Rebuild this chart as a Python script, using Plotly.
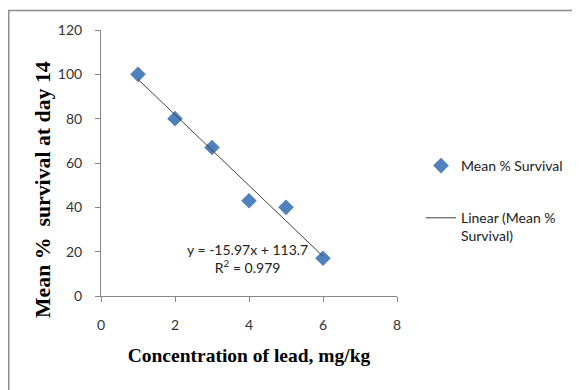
import numpy as np
import plotly.graph_objects as go

conc = [1, 2, 3, 4, 5, 6]
survival = [100, 80, 67, 43, 40, 17]
x_ticks = [0, 2, 4, 6, 8]
y_ticks = [0, 20, 40, 60, 80, 100, 120]

slope, intercept = np.polyfit(conc, survival, 1)
pred = np.polyval([slope, intercept], conc)
r2 = 1 - np.sum((np.array(survival) - pred) ** 2) / np.sum((np.array(survival) - np.mean(survival)) ** 2)
trend_x = [min(conc), max(conc)]
trend_y = list(np.polyval([slope, intercept], trend_x))

# The page body has an 8px margin, so the figure starts at (8, 8) on screen.
OFF = 8
W, H = 580 - OFF, 390 - OFF
L, T = 101 - OFF, 30 - OFF          # plot area left/top in figure coords
PR, PB = 397 - OFF, 296 - OFF       # plot area right/bottom in figure coords
R, B = W - PR, H - PB
pw, ph = PR - L, PB - T

fig = go.Figure()
fig.add_trace(go.Scatter(
    x=conc, y=survival, mode="markers", name="Mean % Survival",
    marker=dict(symbol="diamond", size=12, color="#4F81BD"),
    legendgroup="a",
))
fig.add_trace(go.Scatter(
    x=trend_x, y=trend_y, mode="lines", name="Linear (Mean %<br>Survival)",
    line=dict(color="#404040", width=1),
    legendgroup="b",
))

fig.add_annotation(
    x=3.95, y=17.1, xref="x", yref="y", showarrow=False,
    text=f"y = {slope:.2f}x + {intercept:.1f}<br>R<sup>2</sup> = {r2:.3f}",
    font=dict(family="Lato, Open Sans, sans-serif", size=14, color="#222"),
    align="center", yanchor="middle", xanchor="center",
)

# y-axis title (placed as rotated text, offset below the plot centre as in the original)
fig.add_annotation(
    x=(43 - OFF - L) / pw, y=(PB - (190 - OFF)) / ph, xref="paper", yref="paper",
    showarrow=False, textangle=-90, xanchor="center", yanchor="middle",
    text="<b>Mean %  survival at day 14</b>",
    font=dict(family="Liberation Serif, Times New Roman, serif", size=21.8, color="black"),
)

# outer border (chart area frame)
fig.add_shape(type="rect", xref="paper", yref="paper",
              x0=(0.75 - L) / pw, x1=(W + 10 - L) / pw,
              y0=(PB - (H + 10)) / ph, y1=(PB - 2.5) / ph,
              line=dict(color="#8c8c8c", width=1.5), fillcolor="rgba(0,0,0,0)")

fig.update_layout(
    width=W, height=H,
    margin=dict(l=L, r=R, t=T, b=B, autoexpand=False),
    paper_bgcolor="white", plot_bgcolor="white",
    font=dict(family="Lato, Open Sans, sans-serif", size=12, color="#333"),
    showlegend=True,
    legend=dict(x=(413 - L) / pw, y=(PB - 142) / ph, xanchor="left", yanchor="top",
                tracegroupgap=31, font=dict(size=14, color="#222"), valign="top",
                itemwidth=30, bgcolor="rgba(0,0,0,0)"),
    xaxis=dict(range=[0, 8], tickvals=x_ticks, showgrid=False, zeroline=False,
               showline=True, linecolor="#868686", linewidth=1, automargin=False,
               ticks="outside", ticklen=5, tickcolor="#868686", ticklabelstandoff=11,
               tickfont=dict(size=14, color="#333"),
               title=dict(text="<b>Concentration of lead, mg/kg</b>",
                          font=dict(family="Liberation Serif, Times New Roman, serif", size=19.5, color="black"),
                          standoff=16)),
    yaxis=dict(range=[0, 120], tickvals=y_ticks, showgrid=False, zeroline=False,
               showline=True, linecolor="#868686", linewidth=1, automargin=False,
               ticks="outside", ticklen=5, tickcolor="#868686", ticklabelstandoff=10,
               tickfont=dict(size=14, color="#333")),
)

fig.write_html("out.html")
